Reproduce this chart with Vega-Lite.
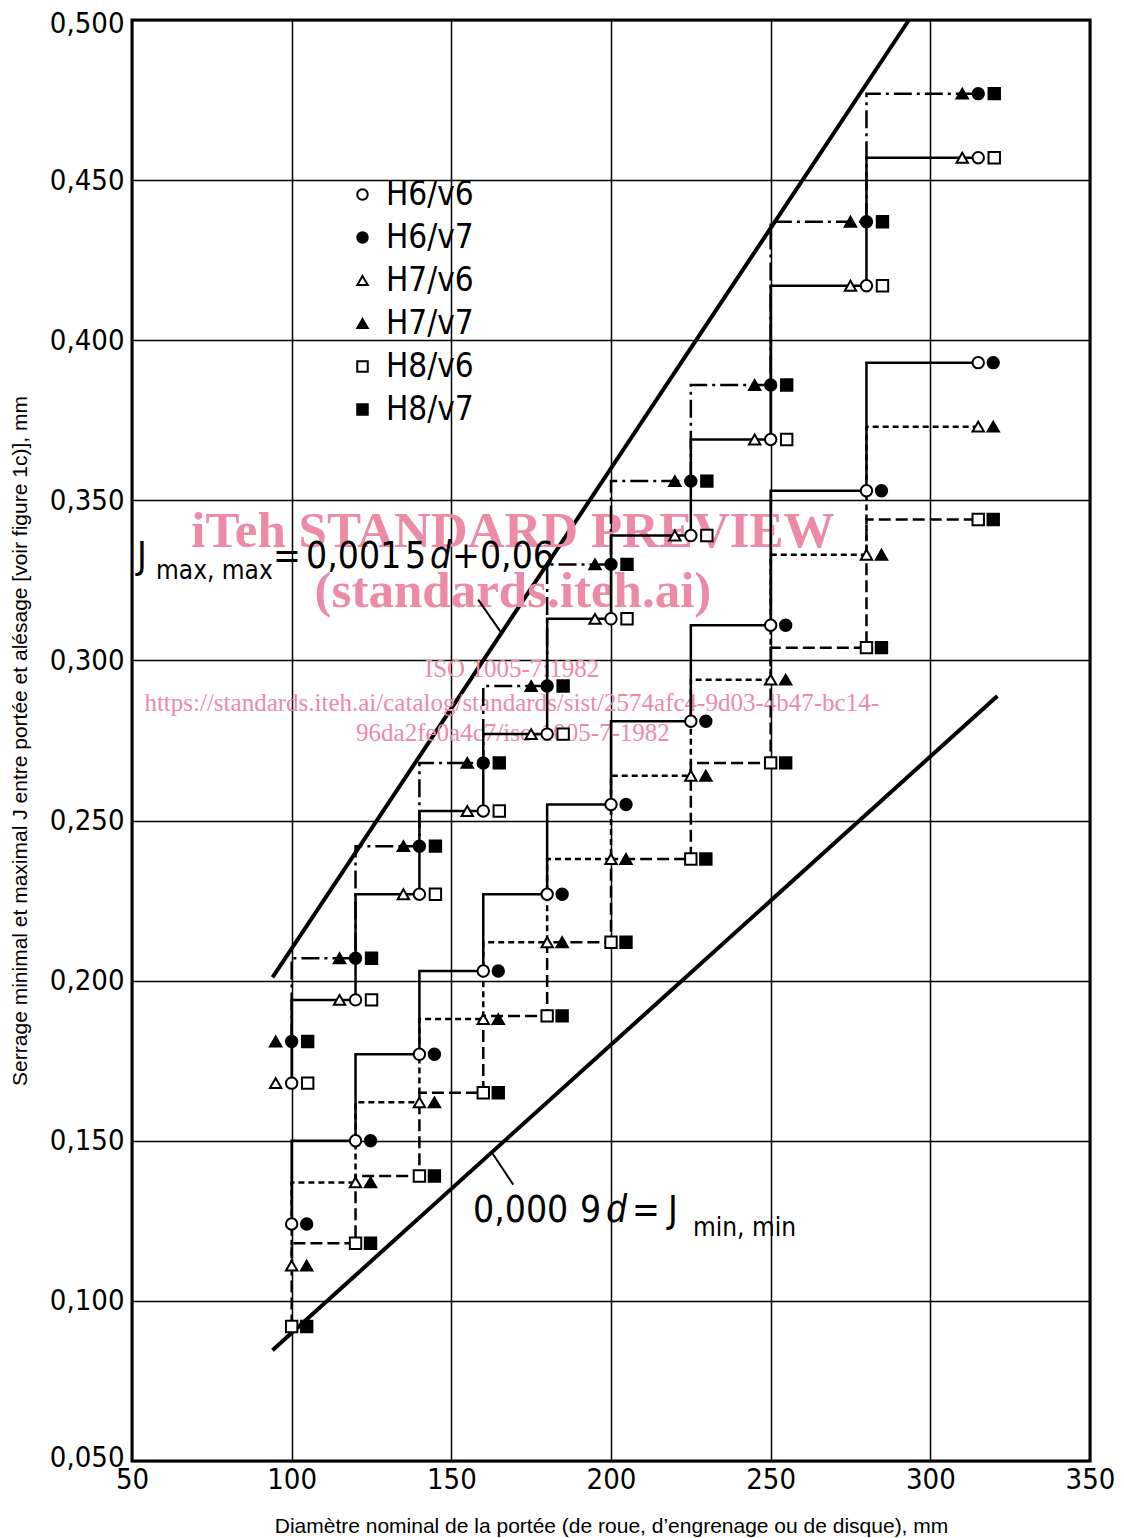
{
  "$schema": "https://vega.github.io/schema/vega-lite/v6.json",
  "width": 958,
  "height": 1441,
  "autosize": {"type": "none"},
  "padding": {"left": 132, "top": 20, "right": 34, "bottom": 77},
  "background": "white",
  "config": {
    "view": {"stroke": "black", "strokeWidth": 3}
  },
  "datasets": {
    "fits": [
      {"d":100,"fit":"H6/v6","H":"H6","v":"v6","jmin":0.124,"jmax":0.168},
      {"d":100,"fit":"H6/v7","H":"H6","v":"v7","jmin":0.124,"jmax":0.181},
      {"d":100,"fit":"H7/v6","H":"H7","v":"v6","jmin":0.111,"jmax":0.168},
      {"d":100,"fit":"H7/v7","H":"H7","v":"v7","jmin":0.111,"jmax":0.181},
      {"d":100,"fit":"H8/v6","H":"H8","v":"v6","jmin":0.092,"jmax":0.168},
      {"d":100,"fit":"H8/v7","H":"H8","v":"v7","jmin":0.092,"jmax":0.181},
      {"d":120,"fit":"H6/v6","H":"H6","v":"v6","jmin":0.150,"jmax":0.194},
      {"d":120,"fit":"H6/v7","H":"H6","v":"v7","jmin":0.150,"jmax":0.207},
      {"d":120,"fit":"H7/v6","H":"H7","v":"v6","jmin":0.137,"jmax":0.194},
      {"d":120,"fit":"H7/v7","H":"H7","v":"v7","jmin":0.137,"jmax":0.207},
      {"d":120,"fit":"H8/v6","H":"H8","v":"v6","jmin":0.118,"jmax":0.194},
      {"d":120,"fit":"H8/v7","H":"H8","v":"v7","jmin":0.118,"jmax":0.207},
      {"d":140,"fit":"H6/v6","H":"H6","v":"v6","jmin":0.177,"jmax":0.227},
      {"d":140,"fit":"H6/v7","H":"H6","v":"v7","jmin":0.177,"jmax":0.242},
      {"d":140,"fit":"H7/v6","H":"H7","v":"v6","jmin":0.162,"jmax":0.227},
      {"d":140,"fit":"H7/v7","H":"H7","v":"v7","jmin":0.162,"jmax":0.242},
      {"d":140,"fit":"H8/v6","H":"H8","v":"v6","jmin":0.139,"jmax":0.227},
      {"d":140,"fit":"H8/v7","H":"H8","v":"v7","jmin":0.139,"jmax":0.242},
      {"d":160,"fit":"H6/v6","H":"H6","v":"v6","jmin":0.203,"jmax":0.253},
      {"d":160,"fit":"H6/v7","H":"H6","v":"v7","jmin":0.203,"jmax":0.268},
      {"d":160,"fit":"H7/v6","H":"H7","v":"v6","jmin":0.188,"jmax":0.253},
      {"d":160,"fit":"H7/v7","H":"H7","v":"v7","jmin":0.188,"jmax":0.268},
      {"d":160,"fit":"H8/v6","H":"H8","v":"v6","jmin":0.165,"jmax":0.253},
      {"d":160,"fit":"H8/v7","H":"H8","v":"v7","jmin":0.165,"jmax":0.268},
      {"d":180,"fit":"H6/v6","H":"H6","v":"v6","jmin":0.227,"jmax":0.277},
      {"d":180,"fit":"H6/v7","H":"H6","v":"v7","jmin":0.227,"jmax":0.292},
      {"d":180,"fit":"H7/v6","H":"H7","v":"v6","jmin":0.212,"jmax":0.277},
      {"d":180,"fit":"H7/v7","H":"H7","v":"v7","jmin":0.212,"jmax":0.292},
      {"d":180,"fit":"H8/v6","H":"H8","v":"v6","jmin":0.189,"jmax":0.277},
      {"d":180,"fit":"H8/v7","H":"H8","v":"v7","jmin":0.189,"jmax":0.292},
      {"d":200,"fit":"H6/v6","H":"H6","v":"v6","jmin":0.255,"jmax":0.313},
      {"d":200,"fit":"H6/v7","H":"H6","v":"v7","jmin":0.255,"jmax":0.330},
      {"d":200,"fit":"H7/v6","H":"H7","v":"v6","jmin":0.238,"jmax":0.313},
      {"d":200,"fit":"H7/v7","H":"H7","v":"v7","jmin":0.238,"jmax":0.330},
      {"d":200,"fit":"H8/v6","H":"H8","v":"v6","jmin":0.212,"jmax":0.313},
      {"d":200,"fit":"H8/v7","H":"H8","v":"v7","jmin":0.212,"jmax":0.330},
      {"d":225,"fit":"H6/v6","H":"H6","v":"v6","jmin":0.281,"jmax":0.339},
      {"d":225,"fit":"H6/v7","H":"H6","v":"v7","jmin":0.281,"jmax":0.356},
      {"d":225,"fit":"H7/v6","H":"H7","v":"v6","jmin":0.264,"jmax":0.339},
      {"d":225,"fit":"H7/v7","H":"H7","v":"v7","jmin":0.264,"jmax":0.356},
      {"d":225,"fit":"H8/v6","H":"H8","v":"v6","jmin":0.238,"jmax":0.339},
      {"d":225,"fit":"H8/v7","H":"H8","v":"v7","jmin":0.238,"jmax":0.356},
      {"d":250,"fit":"H6/v6","H":"H6","v":"v6","jmin":0.311,"jmax":0.369},
      {"d":250,"fit":"H6/v7","H":"H6","v":"v7","jmin":0.311,"jmax":0.386},
      {"d":250,"fit":"H7/v6","H":"H7","v":"v6","jmin":0.294,"jmax":0.369},
      {"d":250,"fit":"H7/v7","H":"H7","v":"v7","jmin":0.294,"jmax":0.386},
      {"d":250,"fit":"H8/v6","H":"H8","v":"v6","jmin":0.268,"jmax":0.369},
      {"d":250,"fit":"H8/v7","H":"H8","v":"v7","jmin":0.268,"jmax":0.386},
      {"d":280,"fit":"H6/v6","H":"H6","v":"v6","jmin":0.353,"jmax":0.417},
      {"d":280,"fit":"H6/v7","H":"H6","v":"v7","jmin":0.353,"jmax":0.437},
      {"d":280,"fit":"H7/v6","H":"H7","v":"v6","jmin":0.333,"jmax":0.417},
      {"d":280,"fit":"H7/v7","H":"H7","v":"v7","jmin":0.333,"jmax":0.437},
      {"d":280,"fit":"H8/v6","H":"H8","v":"v6","jmin":0.304,"jmax":0.417},
      {"d":280,"fit":"H8/v7","H":"H8","v":"v7","jmin":0.304,"jmax":0.437},
      {"d":315,"fit":"H6/v6","H":"H6","v":"v6","jmin":0.393,"jmax":0.457},
      {"d":315,"fit":"H6/v7","H":"H6","v":"v7","jmin":0.393,"jmax":0.477},
      {"d":315,"fit":"H7/v6","H":"H7","v":"v6","jmin":0.373,"jmax":0.457},
      {"d":315,"fit":"H7/v7","H":"H7","v":"v7","jmin":0.373,"jmax":0.477},
      {"d":315,"fit":"H8/v6","H":"H8","v":"v6","jmin":0.344,"jmax":0.457},
      {"d":315,"fit":"H8/v7","H":"H8","v":"v7","jmin":0.344,"jmax":0.477}
    ],
    "limits": [
      {"line":"max","d":94,"J":0.201},
      {"line":"max","d":293.3,"J":0.5},
      {"line":"min","d":94,"J":0.0846},
      {"line":"min","d":321,"J":0.2889}
    ],
    "leaders": [
      {"d":158.4,"J":0.319,"d2":165.6,"J2":0.3087},
      {"d":162.65,"J":0.1464,"d2":169.4,"J2":0.1363}
    ],
    "formula": [
      {"t":"J","d":51.57,"J":0.3289},
      {"t":"=","d":94.15,"J":0.3289},
      {"t":"0,001","d":104.5,"J":0.3289},
      {"t":"5","d":135.49,"J":0.3289},
      {"t":"+0,06","d":150.21,"J":0.3289},
      {"t":"0,000","d":156.79,"J":0.1245},
      {"t":"9","d":190.29,"J":0.1245},
      {"t":"=","d":206.58,"J":0.1245},
      {"t":"J","d":217.85,"J":0.1245}
    ],
    "formulaVar": [
      {"t":"d","d":143.32,"J":0.3289},
      {"t":"d","d":198.43,"J":0.1245}
    ],
    "formulaSub": [
      {"t":"max, max","d":57.52,"J":0.3253},
      {"t":"min, min","d":225.68,"J":0.1204}
    ],
    "wmBig": [
      {"t":"iTeh STANDARD PREVIEW","d":169.3,"J":0.3353},
      {"t":"(standards.iteh.ai)","d":169.3,"J":0.3168}
    ],
    "wmSmall": [
      {"t":"ISO 1005-7:1982","d":169.0,"J":0.2947},
      {"t":"https://standards.iteh.ai/catalog/standards/sist/2574afc4-9d03-4b47-bc14-","d":168.9,"J":0.2843},
      {"t":"96da2fe0a4c7/iso-1005-7-1982","d":169.3,"J":0.2747}
    ]
  },
  "layer": [
    {
      "data": {"name": "limits"},
      "mark": {"type": "line", "color": "black", "strokeWidth": 4, "strokeCap": "butt"},
      "encoding": {
        "x": {"field": "d", "type": "quantitative", "scale": {"domain": [50, 350], "nice": false, "zero": false},
          "title": "Diamètre nominal de la portée (de roue, d’engrenage ou de disque), mm",
          "axis": {"values": [50,100,150,200,250,300,350], "grid": true, "gridColor": "black", "gridWidth": 1.5, "gridOpacity": 1,
            "domain": false, "ticks": false, "labelFont": "DejaVu Sans Condensed, Liberation Sans", "labelFontSize": 29, "labelColor": "black",
            "labelPadding": 4, "labelFlush": false, "labelOverlap": false, "format": "d",
            "titleFont": "Liberation Sans", "titleFontSize": 21, "titleFontWeight": "normal", "titleColor": "black", "titlePadding": 21}},
        "y": {"field": "J", "type": "quantitative", "scale": {"domain": [0.05, 0.5], "nice": false, "zero": false},
          "title": "Serrage minimal et maximal J entre portée et alésage [voir figure 1c)], mm",
          "axis": {"values": [0.05,0.1,0.15,0.2,0.25,0.3,0.35,0.4,0.45,0.5], "grid": true, "gridColor": "black", "gridWidth": 1.5, "gridOpacity": 1,
            "domain": false, "ticks": false, "labelFont": "DejaVu Sans Condensed, Liberation Sans", "labelFontSize": 29, "labelColor": "black",
            "labelPadding": 8, "labelFlush": true, "labelFlushOffset": 11, "labelOverlap": false,
            "labelExpr": "replace(format(datum.value, '.3f'), '.', ',')",
            "titleFont": "Liberation Sans", "titleFontSize": 21, "titleFontWeight": "normal", "titleColor": "black", "titlePadding": 19}},
        "detail": {"field": "line", "type": "nominal"}
      }
    },
    {
      "data": {"name": "wmBig"},
      "mark": {"type": "text", "font": "Liberation Serif", "fontWeight": "bold", "fontSize": 51, "color": "#ec8aa8", "align": "center", "baseline": "alphabetic"},
      "encoding": {
        "x": {"field": "d", "type": "quantitative"},
        "y": {"field": "J", "type": "quantitative"},
        "text": {"field": "t"}
      }
    },
    {
      "data": {"name": "wmSmall"},
      "mark": {"type": "text", "font": "Liberation Serif", "fontSize": 25, "color": "#ec8aa8", "align": "center", "baseline": "alphabetic"},
      "encoding": {
        "x": {"field": "d", "type": "quantitative"},
        "y": {"field": "J", "type": "quantitative"},
        "text": {"field": "t"}
      }
    },
    {
      "data": {"name": "leaders"},
      "mark": {"type": "rule", "color": "black", "strokeWidth": 2},
      "encoding": {
        "x": {"field": "d", "type": "quantitative"},
        "y": {"field": "J", "type": "quantitative"},
        "x2": {"field": "d2"},
        "y2": {"field": "J2"}
      }
    },
    {
      "data": {"name": "fits"},
      "transform": [{"filter": "datum.H === 'H6'"}],
      "mark": {"type": "line", "interpolate": "step-before", "color": "black", "strokeWidth": 2.5},
      "encoding": {
        "x": {"field": "d", "type": "quantitative"},
        "y": {"field": "jmax", "type": "quantitative"},
        "strokeDash": {"field": "v", "type": "nominal", "legend": null,
          "scale": {"domain": ["v6", "v7", "H6", "H7", "H8"], "range": [[1, 0], [18, 5, 3, 5], [1, 0], [6, 4], [12, 5]]}}
      }
    },
    {
      "data": {"name": "fits"},
      "transform": [{"filter": "datum.v === 'v6'"}],
      "mark": {"type": "line", "interpolate": "step-before", "color": "black", "strokeWidth": 2.5},
      "encoding": {
        "x": {"field": "d", "type": "quantitative"},
        "y": {"field": "jmin", "type": "quantitative"},
        "strokeDash": {"field": "H", "type": "nominal", "legend": null,
          "scale": {"domain": ["v6", "v7", "H6", "H7", "H8"], "range": [[1, 0], [18, 5, 3, 5], [1, 0], [6, 4], [12, 5]]}}
      }
    },
    {
      "data": {"name": "fits"},
      "transform": [{"filter": "datum.H === 'H7'"}],
      "mark": {"type": "point", "strokeWidth": 2, "opacity": 1, "size": 130, "xOffset": -16},
      "encoding": {
        "x": {"field": "d", "type": "quantitative"},
        "y": {"field": "jmax", "type": "quantitative"},
        "shape": {"field": "fit", "type": "nominal",
          "scale": {"domain": ["H6/v6", "H6/v7", "H7/v6", "H7/v7", "H8/v6", "H8/v7"], "range": ["circle", "circle", "triangle-up", "triangle-up", "square", "square"]},
          "legend": {"orient": "none", "legendX": 214, "legendY": 158, "title": null, "padding": 0, "rowPadding": 9,
            "labelFont": "DejaVu Sans Condensed, Liberation Sans", "labelFontSize": 33, "labelColor": "black", "labelOffset": 7,
            "symbolSize": 110, "symbolStrokeWidth": 2}},
        "fill": {"field": "fit", "type": "nominal",
          "scale": {"domain": ["H6/v6", "H6/v7", "H7/v6", "H7/v7", "H8/v6", "H8/v7"], "range": ["white", "black", "white", "black", "white", "black"]},
          "legend": {"orient": "none", "legendX": 214, "legendY": 158, "title": null, "padding": 0, "rowPadding": 9,
            "labelFont": "DejaVu Sans Condensed, Liberation Sans", "labelFontSize": 33, "labelColor": "black", "labelOffset": 7,
            "symbolSize": 110, "symbolStrokeWidth": 2}},
        "stroke": {"field": "fit", "type": "nominal",
          "scale": {"domain": ["H6/v6", "H6/v7", "H7/v6", "H7/v7", "H8/v6", "H8/v7"], "range": ["black", "black", "black", "black", "black", "black"]},
          "legend": {"orient": "none", "legendX": 214, "legendY": 158, "title": null, "padding": 0, "rowPadding": 9,
            "labelFont": "DejaVu Sans Condensed, Liberation Sans", "labelFontSize": 33, "labelColor": "black", "labelOffset": 7,
            "symbolSize": 110, "symbolStrokeWidth": 2}}
      }
    },
    {
      "data": {"name": "fits"},
      "transform": [{"filter": "datum.H === 'H6'"}],
      "mark": {"type": "point", "strokeWidth": 2, "opacity": 1, "size": 130, "xOffset": 0},
      "encoding": {
        "x": {"field": "d", "type": "quantitative"},
        "y": {"field": "jmax", "type": "quantitative"},
        "shape": {"field": "fit", "type": "nominal"},
        "fill": {"field": "fit", "type": "nominal"},
        "stroke": {"field": "fit", "type": "nominal"}
      }
    },
    {
      "data": {"name": "fits"},
      "transform": [{"filter": "datum.H === 'H8'"}],
      "mark": {"type": "point", "strokeWidth": 2, "opacity": 1, "size": 130, "xOffset": 16},
      "encoding": {
        "x": {"field": "d", "type": "quantitative"},
        "y": {"field": "jmax", "type": "quantitative"},
        "shape": {"field": "fit", "type": "nominal"},
        "fill": {"field": "fit", "type": "nominal"},
        "stroke": {"field": "fit", "type": "nominal"}
      }
    },
    {
      "data": {"name": "fits"},
      "transform": [{"filter": "datum.v === 'v6'"}],
      "mark": {"type": "point", "strokeWidth": 2, "opacity": 1, "size": 130, "xOffset": 0},
      "encoding": {
        "x": {"field": "d", "type": "quantitative"},
        "y": {"field": "jmin", "type": "quantitative"},
        "shape": {"field": "fit", "type": "nominal"},
        "fill": {"field": "fit", "type": "nominal"},
        "stroke": {"field": "fit", "type": "nominal"}
      }
    },
    {
      "data": {"name": "fits"},
      "transform": [{"filter": "datum.v === 'v7'"}],
      "mark": {"type": "point", "strokeWidth": 2, "opacity": 1, "size": 130, "xOffset": 15},
      "encoding": {
        "x": {"field": "d", "type": "quantitative"},
        "y": {"field": "jmin", "type": "quantitative"},
        "shape": {"field": "fit", "type": "nominal"},
        "fill": {"field": "fit", "type": "nominal"},
        "stroke": {"field": "fit", "type": "nominal"}
      }
    },
    {
      "data": {"name": "formula"},
      "mark": {"type": "text", "font": "DejaVu Sans Condensed, Liberation Sans", "fontSize": 37, "color": "black", "align": "left", "baseline": "alphabetic"},
      "encoding": {
        "x": {"field": "d", "type": "quantitative"},
        "y": {"field": "J", "type": "quantitative"},
        "text": {"field": "t"}
      }
    },
    {
      "data": {"name": "formulaVar"},
      "mark": {"type": "text", "font": "DejaVu Sans Condensed, Liberation Sans", "fontSize": 37, "fontStyle": "italic", "color": "black", "align": "left", "baseline": "alphabetic"},
      "encoding": {
        "x": {"field": "d", "type": "quantitative"},
        "y": {"field": "J", "type": "quantitative"},
        "text": {"field": "t"}
      }
    },
    {
      "data": {"name": "formulaSub"},
      "mark": {"type": "text", "font": "DejaVu Sans Condensed, Liberation Sans", "fontSize": 26, "color": "black", "align": "left", "baseline": "alphabetic"},
      "encoding": {
        "x": {"field": "d", "type": "quantitative"},
        "y": {"field": "J", "type": "quantitative"},
        "text": {"field": "t"}
      }
    }
  ]
}
